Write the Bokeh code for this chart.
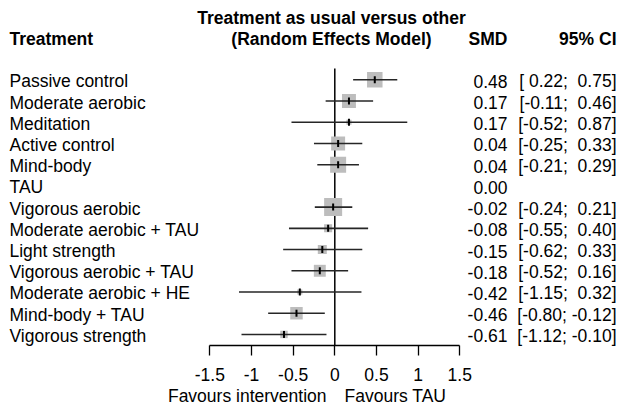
from bokeh.plotting import figure
from bokeh.models import Range1d, LinearAxis, FixedTicker, ColumnDataSource
from bokeh.core.properties import value
from bokeh.embed import file_html
from bokeh.resources import INLINE
import math

# ---- data -------------------------------------------------------------
treatments = ["Passive control", "Moderate aerobic", "Meditation", "Active control",
              "Mind-body", "TAU", "Vigorous aerobic", "Moderate aerobic + TAU",
              "Light strength", "Vigorous aerobic + TAU", "Moderate aerobic + HE",
              "Mind-body + TAU", "Vigorous strength"]
smd = [0.48, 0.17, 0.17, 0.04, 0.04, 0.00, -0.02, -0.08, -0.15, -0.18, -0.42, -0.46, -0.61]
ci_lower = [0.22, -0.11, -0.52, -0.25, -0.21, None, -0.24, -0.55, -0.62, -0.52, -1.15, -0.80, -1.12]
ci_upper = [0.75, 0.46, 0.87, 0.33, 0.29, None, 0.21, 0.40, 0.33, 0.16, 0.32, -0.12, -0.10]
# relative weight of each comparison (box area)
weights = [74, 60, 8, 60, 79, 0, 100, 20, 25, 44, 8, 48, 17]
tick_values = [-1.5, -1, -0.5, 0, 0.5, 1, 1.5]
tick_labels = ["-1.5", "-1", "-0.5", "0", "0.5", "1", "1.5"]

# ---- layout helpers ---------------------------------------------------
W, H = 619, 409
ZERO_PX, PX_PER_UNIT = 334.3, 83.3      # horizontal scale of the forest panel
ROW0_PX, ROW_STEP = 79.3, 21.22         # vertical placement of rows
NBSP = "\u00a0"


def xpx(px):
    return (px - ZERO_PX) / PX_PER_UNIT


def ypx(py):
    return (py - ROW0_PX) / ROW_STEP


FONT = "Liberation Sans"
FS = "17.5px"

p = figure(width=W, height=H, output_backend="svg", toolbar_location=None,
           x_range=Range1d(xpx(0), xpx(W)), y_range=Range1d(ypx(H), ypx(0)),
           x_axis_type=None, y_axis_type=None, min_border=0)
p.outline_line_color = None
p.background_fill_color = "white"
p.border_fill_color = "white"
p.xgrid.visible = False
p.ygrid.visible = False

rows = list(range(len(treatments)))
n = len(rows)

# reference line at zero
p.segment(x0=[0], y0=[ypx(68)], x1=[0], y1=[ypx(345)], line_color="black", line_width=1.5)

# confidence intervals with weighted boxes
ci_rows = [r for r in rows if ci_lower[r] is not None]
ci_src = ColumnDataSource(dict(
    y=ci_rows,
    lo=[ci_lower[r] for r in ci_rows],
    hi=[ci_upper[r] for r in ci_rows],
    est=[smd[r] for r in ci_rows],
    size=[18 * math.sqrt(weights[r] / max(weights)) for r in ci_rows],
))
p.scatter(x="est", y="y", size="size", marker="square", source=ci_src,
          fill_color="#bdbdbd", line_color=None)
p.segment(x0="lo", y0="y", x1="hi", y1="y", source=ci_src,
          line_color="#262626", line_width=1.6)
p.scatter(x="est", y="y", size=7, marker="dash", angle=math.pi / 2, source=ci_src,
          line_color="black", line_width=2)

# x axis drawn at the bottom of the rows
axis = LinearAxis(fixed_location=ypx(345), bounds=(tick_values[0], tick_values[-1]),
                  ticker=FixedTicker(ticks=tick_values))
axis.major_label_overrides = {v: s for v, s in zip(tick_values, tick_labels)}
axis.axis_line_color = "black"
axis.axis_line_width = 1.3
axis.major_tick_line_color = "black"
axis.major_tick_line_width = 1.3
axis.major_tick_in = 0
axis.major_tick_out = 10
axis.minor_tick_line_color = None
axis.major_label_text_font = FONT
axis.major_label_text_font_size = FS
axis.major_label_text_color = "black"
axis.major_label_standoff = 12
p.add_layout(axis, "below")


def signed(v):
    s = "%.2f" % v
    return s if v < 0 else NBSP + s


# text columns
row_text_y = [r + 0.07 for r in rows]
smd_text = ["%.2f" % v for v in smd]
ci_text = ["" if lo is None else "[%s;%s%s]" % (signed(lo), NBSP, signed(hi))
           for lo, hi in zip(ci_lower, ci_upper)]

common = dict(text_font=value(FONT), text_font_size=FS, text_color="black",
              text_baseline="middle")
p.text(x=[xpx(9)] * n, y=row_text_y, text=treatments, text_align="left", **common)
p.text(x=[xpx(507)] * n, y=row_text_y, text=smd_text, text_align="right", **common)
p.text(x=[xpx(616)] * n, y=row_text_y, text=ci_text, text_align="right", **common)

bold = dict(common, text_font_style="bold")
p.text(x=[xpx(331)], y=[ypx(17)], text=["Treatment as usual versus other"],
       text_align="center", **bold)
p.text(x=[xpx(331)], y=[ypx(38)], text=["(Random Effects Model)"],
       text_align="center", **bold)
p.text(x=[xpx(9)], y=[ypx(38)], text=["Treatment"], text_align="left", **bold)
p.text(x=[xpx(507)], y=[ypx(38)], text=["SMD"], text_align="right", **bold)
p.text(x=[xpx(616)], y=[ypx(38)], text=["95% CI"], text_align="right", **bold)

p.text(x=[xpx(326)], y=[ypx(395)], text=["Favours intervention"], text_align="right", **common)
p.text(x=[xpx(344)], y=[ypx(395)], text=["Favours TAU"], text_align="left", **common)

open("out.html", "w").write(file_html(p, INLINE))
